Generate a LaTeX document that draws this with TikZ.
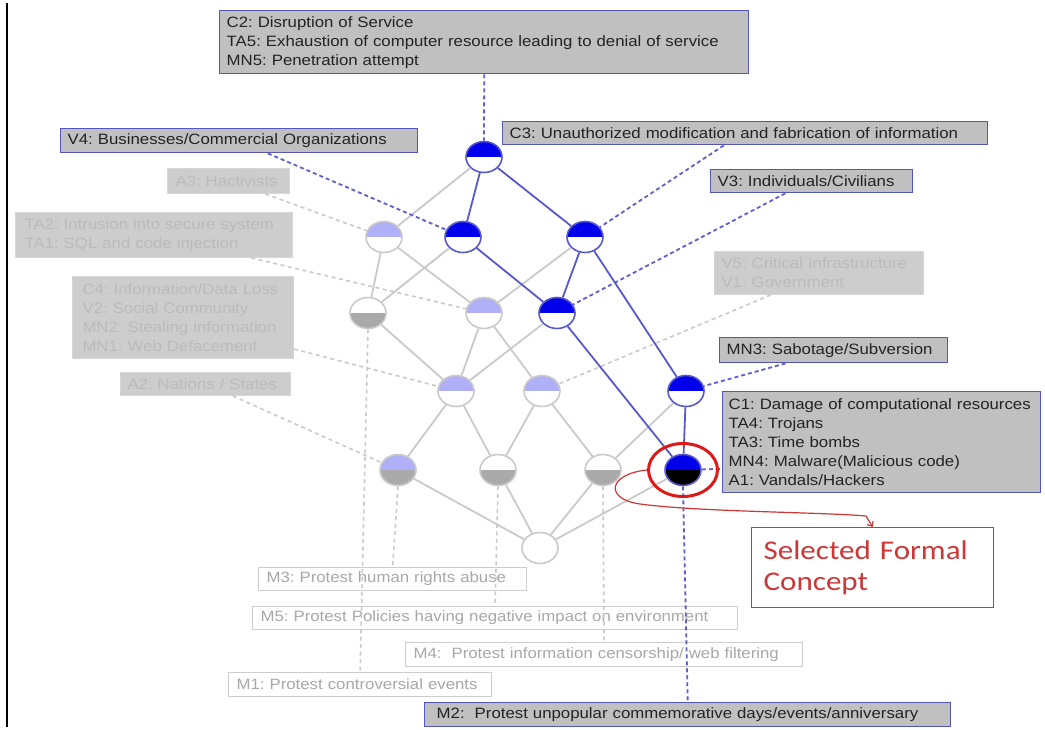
\documentclass[tikz,border=0pt]{standalone}
\usepackage{fontspec}
\setmainfont{Liberation Sans}[FakeStretch=1.12]
\newfontfamily\calloutfont{Carlito}[FakeStretch=1.15]
\usetikzlibrary{shapes.geometric,calc,arrows.meta}
\frenchspacing

\definecolor{cblue}{RGB}{0,0,235}
\definecolor{cedge}{RGB}{88,88,205}
\definecolor{cdash}{RGB}{95,95,205}
\definecolor{lav}{RGB}{176,176,248}
\definecolor{ghalf}{RGB}{170,170,170}
\definecolor{gline}{RGB}{202,202,202}
\definecolor{boxfill}{RGB}{192,192,192}
\definecolor{boxline}{RGB}{85,85,190}
\definecolor{textdark}{RGB}{35,35,35}
\definecolor{fadefill}{RGB}{205,205,205}
\definecolor{fadeline}{RGB}{214,214,214}
\definecolor{fadetext}{RGB}{187,187,187}
\definecolor{openline}{RGB}{205,205,205}
\definecolor{opentext}{RGB}{168,168,168}
\definecolor{selred}{RGB}{222,25,25}
\definecolor{calloutred}{RGB}{205,55,55}

\tikzset{
  conc/.style n args={3}{ellipse, minimum width=36pt, minimum height=31pt,
    inner sep=0pt, draw=#3, line width=1.6pt,
    path picture={
      \fill[#1] (path picture bounding box.north west) rectangle (path picture bounding box.east);
      \fill[#2] (path picture bounding box.west) rectangle (path picture bounding box.south east);
    }},
  lbl/.style={rectangle, anchor=north west, inner xsep=7pt, inner ysep=0pt,
    align=left, font=\fontsize{15}{19}\selectfont},
  activebox/.style={lbl, fill=boxfill, draw=boxline, line width=1.4pt, text=textdark},
  fadedbox/.style={lbl, fill=fadefill, draw=fadeline, line width=1pt, text=fadetext},
  openbox/.style={lbl, draw=openline, line width=1.2pt, text=opentext},
  selbox/.style={rectangle, anchor=north west, inner xsep=12pt, inner ysep=0pt,
    align=left, draw=calloutred, line width=1.3pt, fill=white, text=calloutred,
    font=\calloutfont\fontsize{27}{31}\selectfont},
  gedge/.style={draw=gline, line width=1.8pt},
  bedge/.style={draw=cedge, line width=1.8pt},
  gdash/.style={draw=gline, line width=1.6pt, dash pattern=on 4pt off 3.5pt},
  bdash/.style={draw=cdash, line width=1.8pt, dash pattern=on 4pt off 3pt},
}

\begin{document}
\begin{tikzpicture}[x=1pt,y=-1pt]
\useasboundingbox (0,0) rectangle (1045,730);
\fill[white] (0,0) rectangle (1045,730);

% margin rule on the left
\draw[line width=1.3pt] (7,3) -- (7,727);

% concept lattice
\node[conc={cblue}{white}{cedge}] (T) at (484,157) {};
\node[conc={lav}{white}{gline}]   (A) at (384,237) {};
\node[conc={cblue}{white}{cedge}] (B) at (463,237) {};
\node[conc={cblue}{white}{cedge}] (C) at (585,237) {};
\node[conc={white}{ghalf}{gline}] (D) at (368,313) {};
\node[conc={lav}{white}{gline}]   (E) at (484,313) {};
\node[conc={cblue}{white}{cedge}] (F) at (557,313) {};
\node[conc={lav}{white}{gline}]   (G) at (456,391) {};
\node[conc={lav}{white}{gline}]   (H) at (542,391) {};
\node[conc={cblue}{white}{cedge}] (I) at (686,391) {};
\node[conc={lav}{ghalf}{gline}]   (J) at (398,470) {};
\node[conc={white}{ghalf}{gline}] (K) at (498,470) {};
\node[conc={white}{ghalf}{gline}] (L) at (603,470) {};
\node[conc={cblue}{black}{cedge}] (M) at (683,470) {};
\node[conc={white}{white}{gline}] (N) at (540,548) {};

% attribute / object labels
\node[activebox, minimum width=529, minimum height=63, text width=515] (C2) at (219,10)
  {C2: Disruption of Service\\TA5: Exhaustion of computer resource leading to denial of service\\MN5: Penetration attempt};
\node[activebox, minimum width=357, minimum height=24, text width=343] (V4) at (60,128)
  {V4: Businesses/Commercial Organizations};
\node[activebox, minimum width=485, minimum height=23, text width=471] (C3) at (502,121)
  {C3: Unauthorized modification and fabrication of information};
\node[activebox, minimum width=202, minimum height=23, text width=188] (V3) at (710,169)
  {V3: Individuals/Civilians};
\node[activebox, minimum width=228, minimum height=25, text width=214] (MN3) at (719,337)
  {MN3: Sabotage/Subversion};
\node[activebox, minimum width=318, minimum height=101, text width=306, inner xsep=6pt] (C1) at (722,391)
  {\mbox{C1: Damage of computational resources}\\TA4: Trojans\\TA3: Time bombs\\MN4: Malware(Malicious code)\\A1: Vandals/Hackers};
\node[activebox, minimum width=526, minimum height=24, text width=502, inner xsep=12pt] (M2) at (424,702)
  {M2:\ \ Protest unpopular commemorative days/events/anniversary};

\node[fadedbox, minimum width=122, minimum height=25, text width=106, inner xsep=8pt] (A3) at (167,168)
  {A3: Hactivists};
\node[fadedbox, minimum width=277, minimum height=45, text width=259, inner xsep=9pt] (TA) at (15,212)
  {TA2: Intrusion into secure system\\TA1: SQL and code injection};
\node[fadedbox, minimum width=221, minimum height=82, text width=201, inner xsep=10pt] (C4) at (72,276)
  {C4: Information/Data Loss\\V2: Social Community\\MN2: Stealing information\\MN1: Web Defacement};
\node[fadedbox, minimum width=170, minimum height=23, text width=156] (A2) at (120,372)
  {A2: Nations / States};
\node[fadedbox, minimum width=209, minimum height=43, text width=195] (V5) at (714,251)
  {V5: Critical Infrastructure\\V1: Government};

\node[openbox, minimum width=268, minimum height=23, text width=252, inner xsep=8pt] (M3) at (258,567)
  {M3: Protest human rights abuse};
\node[openbox, minimum width=485, minimum height=23, text width=469, inner xsep=8pt] (M5) at (252,606)
  {M5: Protest Policies having negative impact on environment};
\node[openbox, minimum width=397, minimum height=24, text width=381, inner xsep=8pt] (M4) at (405,642)
  {M4:\ \ Protest information censorship/ web filtering};
\node[openbox, minimum width=263, minimum height=24, text width=247, inner xsep=8pt] (M1) at (228,672)
  {M1: Protest controversial events};

% faded label connectors
\draw[gdash] ($(A3.south west)!0.8!(A3.south east)$) -- (A);
\draw[gdash] ($(TA.south west)!0.85!(TA.south east)$) -- (E);
\draw[gdash] ($(C4.north east)!0.88!(C4.south east)$) -- (G);
\draw[gdash] ($(A2.south west)!0.66!(A2.south east)$) -- (J);
\draw[gdash] ($(V5.south west)!0.27!(V5.south east)$) -- (H);
\draw[gdash] (D.south) -- (M1.north);
\draw[gdash] (J.south) -- (M3.north);
\draw[gdash] (K.south) -- (M5.north);
\draw[gdash] (L.south) -- (M4.north);

% inactive lattice edges
\draw[gedge] (T) -- (A)  (A) -- (D)  (A) -- (E)  (B) -- (D)  (C) -- (E)
             (D) -- (G)  (E) -- (G)  (E) -- (H)  (F) -- (G)
             (G) -- (J)  (G) -- (K)  (H) -- (K)  (H) -- (L)  (I) -- (L)
             (J) -- (N)  (K) -- (N)  (L) -- (N)  (M) -- (N);

% active label connectors
\draw[bdash] (C2.south) -- (T);
\draw[bdash] ($(V4.south west)!0.58!(V4.south east)$) -- (B);
\draw[bdash] ($(C3.south west)!0.456!(C3.south east)$) -- (C);
\draw[bdash] ($(V3.south west)!0.37!(V3.south east)$) -- (F);
\draw[bdash] ($(MN3.south west)!0.29!(MN3.south east)$) -- (I);
\draw[bdash] (M) -- ($(C1.north west)!0.76!(C1.south west)$);
\draw[bdash] (M.south) -- (M2.north);

% active lattice edges
\draw[bedge] (T) -- (B)  (T) -- (C)  (B) -- (F)  (C) -- (F)  (C) -- (I)
             (F) -- (M)  (I) -- (M);

% highlighted concept and callout
\node[ellipse, draw=selred, line width=3pt, minimum width=69pt, minimum height=53pt, inner sep=0pt] (ring) at (M) {};
\node[selbox, minimum width=242, minimum height=80, text width=218] (Sel) at (751,527)
  {Selected Formal\\Concept};
\draw[calloutred, line width=1.2pt, -{Straight Barb[length=4pt,width=7pt]}]
  (ring.west) .. controls (608,474) and (604,499) .. (640,504)
  .. controls (700,512) and (820,512) .. (866,516) -- (Sel.north);
\end{tikzpicture}
\end{document}
